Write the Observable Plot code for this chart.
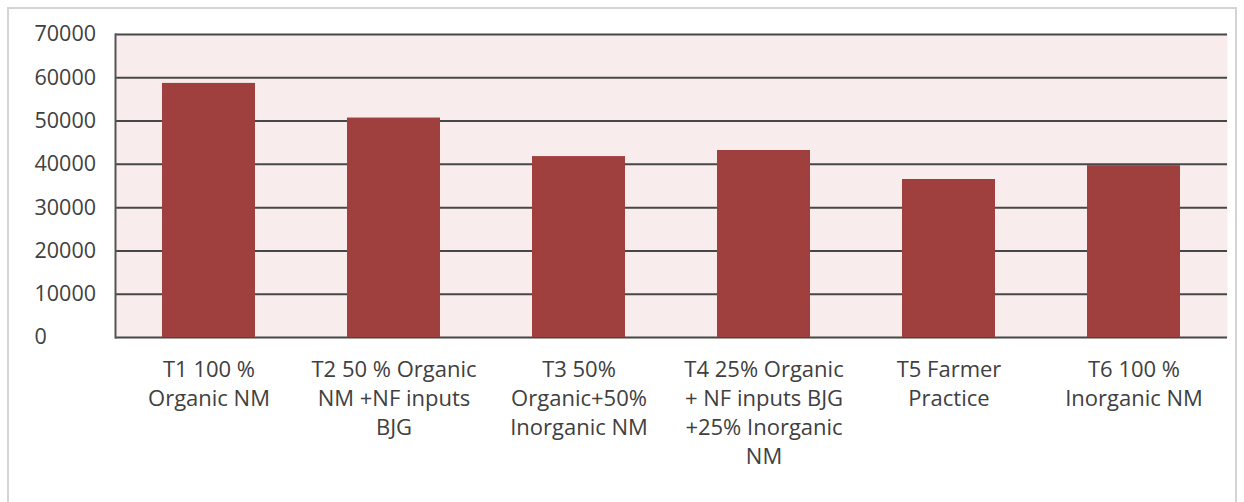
<!DOCTYPE html>
<html>
<head>
<meta charset="utf-8">
<script src="https://cdn.jsdelivr.net/npm/d3@7"></script>
<script src="https://cdn.jsdelivr.net/npm/@observablehq/plot@0.6"></script>
<style>
  html, body { margin: 0; padding: 0; background: #fff; }
  #wrap { position: relative; width: 1244px; height: 502px; overflow: hidden; }
  #border { position: absolute; left: 7px; top: 7px; width: 1230px; height: 520px;
            border: 2px solid #d4d4d4; box-sizing: border-box; pointer-events: none; }
</style>
</head>
<body>
<div id="wrap"><div id="border"></div></div>
<script>
const categories = ["T1", "T2", "T3", "T4", "T5", "T6"];
const categoryLabels = [
  "T1 100 %\nOrganic NM",
  "T2 50 % Organic\nNM +NF inputs\nBJG",
  "T3 50%\nOrganic+50%\nInorganic NM",
  "T4 25% Organic\n+ NF inputs BJG\n+25% Inorganic\nNM",
  "T5 Farmer\nPractice",
  "T6 100 %\nInorganic NM"
];
const values = [58700, 50700, 41800, 43200, 36500, 39700];
const yTicks = [0, 10000, 20000, 30000, 40000, 50000, 60000, 70000];

const data = categories.map((c, i) => ({cat: c, label: categoryLabels[i], value: values[i]}));

const chart = Plot.plot({
  width: 1244,
  height: 502,
  marginLeft: 115,
  marginRight: 17,
  marginTop: 34,
  marginBottom: 165,
  style: {fontFamily: "'Open Sans', Lato, sans-serif", fontSize: "21px", color: "#404040", background: "transparent"},
  x: {domain: categories, paddingInner: 0.5, paddingOuter: 0.25, axis: null},
  y: {domain: [0, 70000], axis: null},
  marks: [
    Plot.frame({fill: "#f9ecec", stroke: null}),
    Plot.ruleY(yTicks, {stroke: "#474747", strokeWidth: 2}),
    Plot.barY(data, {x: "cat", y: "value", fill: "#a0403e"}),
    Plot.frame({anchor: "left", stroke: "#555", strokeWidth: 2}),
    Plot.text(yTicks, {y: d => d, text: d => String(d), frameAnchor: "left", textAnchor: "start", dx: -81, fontSize: 21.5, fill: "#404040"}),
    Plot.text(data, {x: "cat", text: "label", frameAnchor: "bottom", lineAnchor: "top", dy: 19, fontSize: 22, lineHeight: 1.32, fill: "#404040"})
  ]
});
document.getElementById("wrap").prepend(chart);
</script>
</body>
</html>
